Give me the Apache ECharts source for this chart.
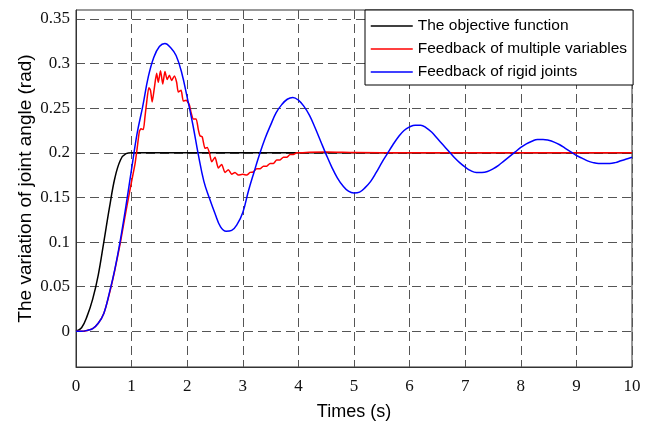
<!DOCTYPE html>
<html><head><meta charset="utf-8">
<script src="https://cdn.jsdelivr.net/npm/echarts@6/dist/echarts.min.js"></script>
<style>html,body{margin:0;padding:0;background:#fff}#c{width:645px;height:427px}</style>
</head><body><div id="c"></div>
<script>
const seriesNames = ['The objective function', 'Feedback of multiple variables', 'Feedback of rigid joints'];
const yTickValues = [0, 0.05, 0.1, 0.15, 0.2, 0.25, 0.3, 0.35];

const objT = [0, 0.1, 0.2, 0.3, 0.4, 0.5, 0.6, 0.7, 0.8, 0.9, 1.0, 10];
const objV = [0, 0.004, 0.017, 0.036, 0.063, 0.1, 0.138, 0.172, 0.192, 0.199, 0.2, 0.2];

const multiT = [0, 0.1, 0.2, 0.3, 0.4, 0.5, 0.6, 0.7, 0.8, 0.9, 1.0, 1.06, 1.1, 1.14, 1.17, 1.21, 1.24, 1.27, 1.31, 1.34, 1.37, 1.41, 1.45, 1.48, 1.52, 1.56, 1.6, 1.64, 1.68, 1.72, 1.77, 1.81, 1.84, 1.89, 1.93, 1.98, 2.04, 2.07, 2.11, 2.16, 2.2, 2.23, 2.27, 2.32, 2.36, 2.4, 2.44, 2.5, 2.56, 2.62, 2.68, 2.74, 2.8, 2.86, 2.92, 3.0, 3.07, 3.13, 3.19, 3.25, 3.31, 3.37, 3.43, 3.49, 3.55, 3.61, 3.67, 3.73, 3.79, 3.85, 3.91, 3.97, 4.05, 4.2, 4.5, 5, 6, 7, 8, 9, 10];
const multiV = [0, 0, 0.001, 0.003, 0.009, 0.02, 0.042, 0.069, 0.1, 0.135, 0.168, 0.187, 0.205, 0.224, 0.227, 0.226, 0.24, 0.256, 0.273, 0.27, 0.257, 0.273, 0.289, 0.279, 0.292, 0.277, 0.291, 0.282, 0.287, 0.281, 0.286, 0.279, 0.268, 0.27, 0.258, 0.259, 0.2535, 0.245, 0.238, 0.238, 0.226, 0.219, 0.218, 0.205, 0.206, 0.2, 0.19, 0.195, 0.183, 0.187, 0.178, 0.181, 0.176, 0.178, 0.175, 0.176, 0.175, 0.178, 0.1785, 0.182, 0.182, 0.185, 0.185, 0.188, 0.188, 0.192, 0.192, 0.195, 0.195, 0.198, 0.198, 0.2, 0.2, 0.2005, 0.2008, 0.2003, 0.2, 0.2, 0.2, 0.2, 0.2];

const rigidT = [0, 0.1, 0.2, 0.3, 0.4, 0.5, 0.6, 0.7, 0.8, 0.9, 1.0, 1.1, 1.2, 1.3, 1.4, 1.5, 1.6, 1.7, 1.8, 1.9, 2.0, 2.1, 2.2, 2.3, 2.4, 2.5, 2.6, 2.7, 2.8, 2.9, 3.0, 3.1, 3.2, 3.3, 3.4, 3.5, 3.6, 3.7, 3.8, 3.9, 4.0, 4.1, 4.2, 4.3, 4.4, 4.5, 4.6, 4.7, 4.8, 4.9, 5.0, 5.1, 5.2, 5.3, 5.4, 5.5, 5.6, 5.7, 5.8, 5.9, 6.0, 6.1, 6.2, 6.3, 6.4, 6.5, 6.6, 6.7, 6.8, 6.9, 7.0, 7.1, 7.2, 7.3, 7.4, 7.5, 7.6, 7.7, 7.8, 7.9, 8.0, 8.1, 8.2, 8.3, 8.4, 8.5, 8.6, 8.7, 8.8, 8.9, 9.0, 9.1, 9.2, 9.3, 9.4, 9.5, 9.6, 9.7, 9.8, 9.9, 10];
const rigidV = [0, 0, 0.001, 0.003, 0.009, 0.02, 0.043, 0.07, 0.103, 0.141, 0.182, 0.222, 0.252, 0.285, 0.307, 0.319, 0.3225, 0.318, 0.309, 0.29, 0.262, 0.232, 0.198, 0.168, 0.149, 0.132, 0.117, 0.112, 0.113, 0.12, 0.133, 0.157, 0.178, 0.198, 0.216, 0.231, 0.245, 0.254, 0.26, 0.262, 0.259, 0.252, 0.242, 0.228, 0.213, 0.198, 0.184, 0.172, 0.163, 0.157, 0.155, 0.156, 0.161, 0.168, 0.178, 0.189, 0.199, 0.209, 0.218, 0.225, 0.229, 0.231, 0.231, 0.228, 0.223, 0.216, 0.209, 0.202, 0.195, 0.189, 0.184, 0.18, 0.178, 0.178, 0.179, 0.182, 0.186, 0.191, 0.196, 0.201, 0.206, 0.21, 0.213, 0.215, 0.215, 0.214, 0.212, 0.209, 0.205, 0.201, 0.197, 0.194, 0.191, 0.189, 0.188, 0.188, 0.188, 0.189, 0.191, 0.193, 0.195];

const zip = (t, v) => t.map((x, i) => [x, v[i]]);
const gridDash = { type: [9, 5], color: '#555', width: 1 };

const chart = echarts.init(document.getElementById('c'), null, { renderer: 'canvas' });
chart.setOption({
  animation: false,
  backgroundColor: '#fff',
  grid: { left: 76, right: 13, top: 10, bottom: 60, show: true, borderColor: '#333', borderWidth: 1 },
  legend: {
    show: true,
    orient: 'vertical', left: 365, top: 10,
    padding: [8, 6, 5, 5], itemGap: 7, itemWidth: 42, itemHeight: 14,
    backgroundColor: '#fff', borderColor: '#000', borderWidth: 1, borderRadius: 0,
    itemStyle: { opacity: 0 },
    lineStyle: { width: 1.5 },
    textStyle: { fontFamily: 'Liberation Sans', fontSize: 15.5, color: '#000' },
    data: seriesNames
  },
  xAxis: {
    type: 'value', min: 0, max: 10, interval: 1,
    axisLine: { show: true, onZero: false, lineStyle: { color: '#333', width: 1 } },
    axisTick: { show: false },
    axisLabel: { fontFamily: 'Liberation Serif', fontSize: 17, color: '#111', margin: 11 },
    splitLine: { show: true, lineStyle: gridDash },
    name: 'Times (s)', nameLocation: 'middle', nameGap: 36, nameMoveOverlap: false,
    nameTextStyle: { fontFamily: 'Liberation Sans', fontSize: 18, color: '#000' }
  },
  yAxis: {
    type: 'value', min: -0.04, max: 0.36,
    axisLine: { show: true, onZero: false, lineStyle: { color: '#333', width: 1 } },
    axisTick: { show: false, customValues: yTickValues },
    axisLabel: { customValues: yTickValues, fontFamily: 'Liberation Serif', fontSize: 17, color: '#111', margin: 6,
      formatter: v => String(Math.round(v * 100) / 100) },
    splitLine: { show: true, lineStyle: gridDash },
    name: 'The variation of joint angle (rad)', nameLocation: 'middle', nameGap: 41, nameRotate: 90, nameMoveOverlap: false,
    nameTextStyle: { fontFamily: 'Liberation Sans', fontSize: 19, color: '#000' }
  },
  series: [
    { name: seriesNames[0], type: 'line', data: zip(objT, objV), smooth: 0.4, symbol: 'none',
      lineStyle: { color: '#000', width: 1.5 }, itemStyle: { color: '#000' } },
    { name: seriesNames[1], type: 'line', data: zip(multiT, multiV), smooth: 0.2, symbol: 'none',
      lineStyle: { color: '#ff0000', width: 1.5 }, itemStyle: { color: '#ff0000' } },
    { name: seriesNames[2], type: 'line', data: zip(rigidT, rigidV), smooth: 0.4, symbol: 'none',
      lineStyle: { color: '#0000ff', width: 1.5 }, itemStyle: { color: '#0000ff' } }
  ]
});
</script>
</body></html>
